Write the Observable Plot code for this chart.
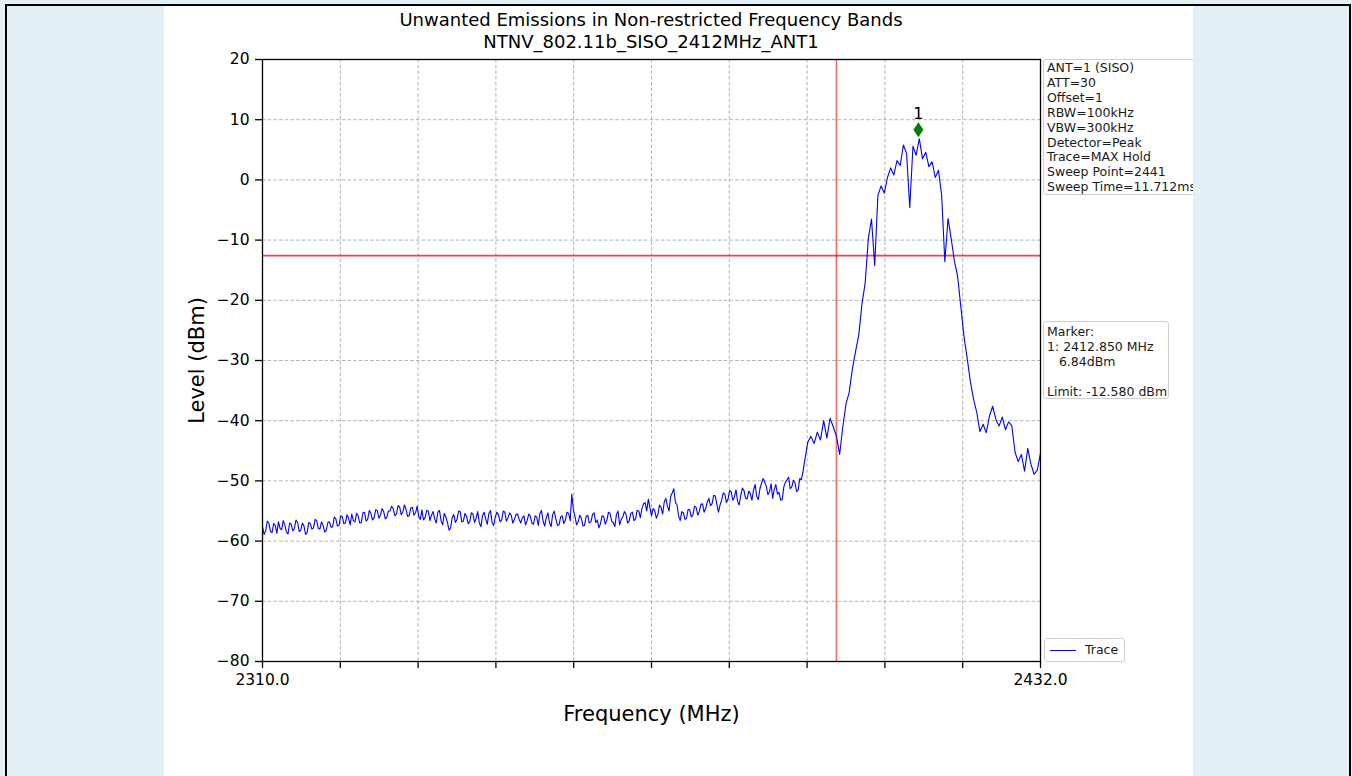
<!DOCTYPE html>
<html>
<head>
<meta charset="utf-8">
<script src="https://cdn.jsdelivr.net/npm/d3@7"></script>
<script src="https://cdn.jsdelivr.net/npm/@observablehq/plot@0.6"></script>
<style>
  html, body { margin: 0; padding: 0; }
  body { width: 1352px; height: 776px; overflow: hidden; background: #e1f0f7; position: relative; font-family: "DejaVu Sans", sans-serif; }
  #frame { position: absolute; left: 5px; top: 4px; width: 1342px; height: 800px; border: 2px solid #000; border-bottom: none; background: #e1f0f7; }
  #panel { position: absolute; left: 157px; top: 0; width: 1029px; height: 800px; background: #fff; overflow: hidden; }
  #title { height: 45px; box-sizing: border-box; padding-top: 3px; margin-left: 78px; width: 818px; text-align: center; font-size: 18px; line-height: 22px; color: #000; white-space: nowrap; position: relative; z-index: 2; }
  #chart { position: absolute; left: 0; top: 45px; }
  .box { position: absolute; background: rgba(255,255,255,0.85); border: 1px solid #cfcfcf; border-radius: 3px; font-size: 12.5px; color: #1a1a1a; white-space: pre; box-sizing: border-box; z-index: 3; }
  #info { left: 879px; top: 53px; width: 170px; height: 136px; padding: 1px 3px; line-height: 14.9px; }
  #marker { left: 879px; top: 315px; width: 126px; height: 78px; padding: 1.5px 3px; line-height: 15px; }
  #legend { left: 880px; top: 632px; width: 81px; height: 24px; }
  #legend .swatch { position: absolute; left: 5px; top: 10.5px; width: 26px; height: 0; border-top: 1.5px solid #0000ff; }
  #legend .lab { position: absolute; left: 40px; top: 3px; line-height: 16px; }
</style>
</head>
<body>
<div id="frame">
  <div id="panel">
    <div id="title"></div>
    <div id="chart"></div>
    <div id="info" class="box"></div>
    <div id="marker" class="box"></div>
    <div id="legend" class="box"><div class="swatch"></div><div class="lab">Trace</div></div>
  </div>
</div>
<script>
// ---- data ----
const titleLines = ["Unwanted Emissions in Non-restricted Frequency Bands", "NTNV_802.11b_SISO_2412MHz_ANT1"];
const xLabel = "Frequency (MHz)";
const yLabel = "Level (dBm)";
const xDomain = [2310, 2432];
const yDomain = [-80, 20];
const xTickValues = [2310, 2322.2, 2334.4, 2346.6, 2358.8, 2371, 2383.2, 2395.4, 2407.6, 2419.8, 2432];
const xTickLabels = ["2310.0", "", "", "", "", "", "", "", "", "", "2432.0"];
const yTickValues = [-80, -70, -60, -50, -40, -30, -20, -10, 0, 10, 20];

// noise floor: 2310.00 ... 2394.75 MHz, every 0.25 MHz
const floorStartMHz = 2310;
const floorStepMHz = 0.25;
const floorLevels = [
  -57.6,-58.9,-58.3,-56.7,-57.0,-58.4,-58.6,-57.1,-57.4,-58.7,-56.8,-57.9,-58.1,-56.6,-57.3,-58.5,-58.8,-57.0,-57.2,-58.3,
  -57.9,-56.5,-56.9,-58.4,-58.2,-57.0,-57.5,-58.9,-58.6,-56.9,-57.1,-58.0,-57.8,-56.4,-56.6,-57.9,-58.0,-56.8,-57.4,-58.5,
  -58.2,-56.9,-56.8,-57.7,-57.6,-56.0,-56.3,-57.5,-57.4,-55.8,-55.9,-57.1,-57.0,-55.6,-56.2,-57.3,-55.5,-56.6,-56.8,-55.4,
  -55.8,-57.0,-56.9,-55.3,-55.2,-56.7,-56.4,-54.9,-55.4,-56.5,-56.1,-54.8,-54.9,-56.2,-55.7,-54.6,-55.1,-56.3,-56.0,-55.0,
  -55.0,-54.2,-54.6,-55.8,-55.5,-54.1,-54.3,-55.6,-55.2,-54.0,-54.7,-55.9,-55.8,-54.5,-54.4,-55.7,-55.3,-54.2,-55.9,-56.4,
  -54.8,-56.5,-56.1,-54.9,-55.0,-56.6,-55.7,-55.1,-56.3,-57.0,-55.2,-54.9,-56.6,-57.3,-55.4,-56.0,-56.9,-58.2,-57.8,-56.1,
  -55.6,-56.9,-56.4,-55.0,-55.1,-56.8,-56.7,-55.4,-55.9,-57.1,-56.8,-55.3,-55.5,-56.9,-56.2,-55.1,-57.0,-57.6,-55.8,-55.2,
  -56.3,-57.2,-55.4,-54.9,-56.9,-57.4,-56.0,-55.2,-55.6,-56.8,-56.5,-55.0,-55.2,-56.7,-56.1,-55.3,-55.7,-57.0,-56.4,-55.6,
  -55.5,-56.4,-57.0,-56.1,-55.8,-57.3,-56.6,-55.5,-55.9,-57.0,-57.2,-55.8,-56.0,-57.4,-55.4,-54.9,-56.7,-57.5,-56.1,-55.3,
  -56.9,-57.6,-55.6,-55.0,-56.3,-57.4,-57.3,-56.0,-55.8,-57.1,-56.5,-55.2,-55.4,-56.6,-52.2,-54.8,-55.9,-57.3,-56.8,-55.7,
  -56.2,-57.5,-57.4,-55.9,-55.7,-57.0,-56.8,-55.6,-55.3,-56.9,-56.5,-57.8,-57.1,-55.8,-55.9,-57.2,-56.6,-55.2,-55.4,-56.7,
  -56.9,-57.6,-55.6,-55.0,-57.3,-56.4,-56.0,-55.1,-55.5,-57.0,-56.7,-55.4,-55.2,-56.6,-56.3,-54.9,-55.0,-56.1,-54.6,-53.8,
  -53.6,-55.0,-53.0,-54.4,-55.8,-54.6,-54.9,-56.2,-55.6,-54.0,-54.4,-55.5,-53.5,-52.9,-54.2,-55.0,-52.6,-52.0,-51.3,-53.6,
  -54.0,-55.8,-56.6,-55.1,-55.3,-56.4,-56.2,-54.7,-54.8,-56.0,-55.6,-54.2,-54.4,-55.7,-55.1,-53.9,-53.8,-55.2,-54.6,-53.5,
  -52.9,-54.1,-53.8,-52.4,-52.5,-53.9,-55.2,-54.0,-53.2,-52.0,-52.2,-53.6,-53.0,-51.6,-51.8,-53.2,-52.7,-51.5,-53.4,-54.0,
  -52.4,-51.2,-51.6,-52.9,-53.0,-51.7,-52.1,-53.2,-51.5,-50.6,-52.6,-53.1,-51.3,-50.4,-49.6,-50.2,-50.9,-52.3,-51.8,-50.5,
  -52.9,-51.4,-50.6,-52.2,-51.9,-53.2,-53.1,-51.0,-50.2,-49.8,-49.4,-51.3,-51.0,-49.9,-50.3,-51.8,-51.5,-49.6,-49.8,-48.5
];

// channel and upper skirt: 2395.0 ... 2432.0 MHz, every 0.5 MHz
const skirtStartMHz = 2395;
const skirtStepMHz = 0.5;
const skirtLevels = [
  -46.8,-43.6,-42.6,-43.8,-41.9,-43.2,-40.0,-42.9,-39.6,-41.0,
  -42.6,-45.6,-41.0,-37.2,-35.3,-31.4,-28.5,-25.8,-20.6,-17.2,
  -9.8,-6.5,-14.2,-2.6,-1.0,-2.2,0.4,2.0,0.8,3.2,
  2.4,5.8,4.4,-4.6,5.6,4.1,6.84,3.5,4.6,2.2,
  3.0,0.4,1.6,-2.6,-13.6,-6.4,-9.8,-13.5,-16.0,-21.0,
  -26.0,-29.6,-33.5,-36.4,-38.6,-41.8,-40.6,-42.0,-39.2,-37.6,
  -39.8,-40.9,-39.4,-41.5,-40.2,-40.8,-45.2,-46.8,-45.6,-48.4,
  -44.6,-47.2,-48.9,-48.2,-45.4
];

const limitFreqMHz = 2400;
const limitLevelDbm = -12.58;
const markerFreqMHz = 2412.85;
const markerLevelDbm = 6.84;
const markerName = "1";

const infoLines = ["ANT=1 (SISO)", "ATT=30", "Offset=1", "RBW=100kHz", "VBW=300kHz", "Detector=Peak", "Trace=MAX Hold", "Sweep Point=2441", "Sweep Time=11.712ms"];
const markerLines = ["Marker:", "1: 2412.850 MHz", "   6.84dBm", "", "Limit: -12.580 dBm"];

// ---- build ----
document.getElementById("title").innerHTML = titleLines.join("<br>");
document.getElementById("info").textContent = infoLines.join("\n");
document.getElementById("marker").textContent = markerLines.join("\n");

const trace = [
  ...floorLevels.map((level, i) => ({freq: floorStartMHz + i * floorStepMHz, level})),
  ...skirtLevels.map((level, i) => ({freq: skirtStartMHz + i * skirtStepMHz, level}))
];
const markerData = [{freq: markerFreqMHz, level: markerLevelDbm, name: markerName}];

const fmtMinus = d => d < 0 ? "\u2212" + Math.abs(d) : String(d);
const thinDiamond = {
  draw(ctx) {
    ctx.moveTo(0, -7.5);
    ctx.lineTo(5, 0);
    ctx.lineTo(0, 7.5);
    ctx.lineTo(-5, 0);
    ctx.closePath();
  }
};

const chart = Plot.plot({
  width: 1029,
  height: 731,
  marginTop: 8,
  marginBottom: 121,
  marginLeft: 98,
  marginRight: 153,
  x: {domain: xDomain},
  y: {domain: yDomain},
  style: {fontFamily: "DejaVu Sans", fontSize: "15.5px", color: "#000", background: "transparent", overflow: "visible"},
  marks: [
    Plot.gridX(xTickValues, {stroke: "#a0a0a0", strokeOpacity: 0.9, strokeWidth: 0.9, strokeDasharray: "3.5,2.2"}),
    Plot.gridY(yTickValues, {stroke: "#a0a0a0", strokeOpacity: 0.9, strokeWidth: 0.9, strokeDasharray: "3.5,2.2"}),
    Plot.ruleX([limitFreqMHz], {stroke: "#ff0000", strokeOpacity: 0.6, strokeWidth: 1.6}),
    Plot.ruleY([limitLevelDbm], {stroke: "#ff0000", strokeOpacity: 0.75, strokeWidth: 1.6}),
    Plot.line(trace, {x: "freq", y: "level", stroke: "#0000ff", strokeWidth: 1.1}),
    Plot.dot(markerData, {x: "freq", y: "level", symbol: thinDiamond, fill: "#008000", stroke: "none", dy: -9}),
    Plot.text(markerData, {x: "freq", y: "level", text: "name", dy: -25, fontSize: 16}),
    Plot.axisX({ticks: xTickValues, tickFormat: (d, i) => xTickLabels[i], tickSize: 7, tickPadding: 5, strokeWidth: 1.3, label: null}),
    Plot.axisY({ticks: yTickValues, tickFormat: fmtMinus, tickSize: 7, tickPadding: 6, strokeWidth: 1.3, label: null}),
    Plot.text([xLabel], {text: d => d, frameAnchor: "bottom", dy: 59, fontSize: 21}),
    Plot.text([yLabel], {text: d => d, frameAnchor: "left", textAnchor: "middle", rotate: -90, dx: -65, fontSize: 21}),
    Plot.frame({stroke: "#000", strokeWidth: 1.3})
  ]
});
document.getElementById("chart").appendChild(chart);
</script>
</body>
</html>
